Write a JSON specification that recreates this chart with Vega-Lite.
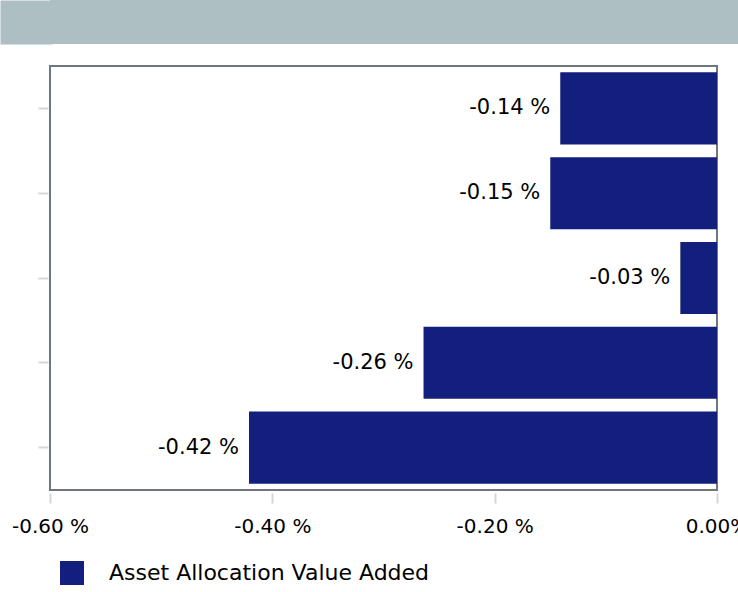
{
  "$schema": "https://vega.github.io/schema/vega-lite/v6.json",
  "padding": 0,
  "autosize": {"type": "pad"},
  "background": "white",
  "config": {
    "font": "DejaVu Sans",
    "concat": {"spacing": 21}
  },
  "vconcat": [
    {
      "width": 688,
      "height": 44,
      "view": {"fill": "#adbfc3", "stroke": null},
      "data": {"values": [{"t": "", "v": 0}]},
      "mark": {"type": "text"},
      "encoding": {
        "text": {"field": "t"},
        "y": {
          "field": "v",
          "type": "quantitative",
          "axis": {
            "title": null,
            "labels": false,
            "ticks": false,
            "grid": false,
            "domain": true,
            "domainWidth": 52,
            "domainColor": "#adbfc3",
            "domainCap": "butt",
            "offset": 24
          }
        }
      }
    },
    {
      "width": 667,
      "height": 424,
      "view": {"stroke": "#6d7780", "strokeWidth": 2},
      "data": {
        "values": [
          {"cat": "1", "value": -0.141, "label": "-0.14 %", "series": "Asset Allocation Value Added"},
          {"cat": "2", "value": -0.150, "label": "-0.15 %", "series": "Asset Allocation Value Added"},
          {"cat": "3", "value": -0.033, "label": "-0.03 %", "series": "Asset Allocation Value Added"},
          {"cat": "4", "value": -0.264, "label": "-0.26 %", "series": "Asset Allocation Value Added"},
          {"cat": "5", "value": -0.421, "label": "-0.42 %", "series": "Asset Allocation Value Added"}
        ]
      },
      "encoding": {
        "y": {
          "field": "cat",
          "type": "nominal",
          "sort": null,
          "scale": {"paddingInner": 0.15, "paddingOuter": 0.075},
          "axis": {
            "title": null,
            "labels": false,
            "domain": false,
            "ticks": true,
            "tickSize": 10,
            "tickWidth": 2,
            "tickColor": "#d6d6d6",
            "offset": 2,
            "minExtent": 47
          }
        },
        "x": {
          "field": "value",
          "type": "quantitative",
          "scale": {"domain": [-0.6, 0], "nice": false, "zero": false},
          "axis": {
            "title": null,
            "values": [-0.6, -0.4, -0.2, 0],
            "labelExpr": "datum.value === 0 ? '0.00%' : '-' + format(-datum.value, '.2f') + ' %'",
            "grid": false,
            "domain": false,
            "tickSize": 10,
            "tickWidth": 2,
            "tickColor": "#d6d6d6",
            "offset": 3,
            "labelPadding": 13,
            "labelFontSize": 20,
            "labelColor": "#000000",
            "labelFlush": false,
            "labelOverlap": false
          }
        }
      },
      "layer": [
        {
          "mark": {"type": "bar"},
          "encoding": {
            "color": {
              "field": "series",
              "type": "nominal",
              "scale": {"range": ["#131f7c"]},
              "legend": {
                "title": null,
                "orient": "none",
                "legendX": 10,
                "legendY": 561,
                "symbolType": "square",
                "symbolSize": 576,
                "symbolStrokeWidth": 0,
                "symbolOpacity": 1,
                "labelFontSize": 22,
                "labelColor": "#000000",
                "labelOffset": 25,
                "labelLimit": 500
              }
            }
          }
        },
        {
          "mark": {
            "type": "text",
            "align": "right",
            "baseline": "middle",
            "dx": -10,
            "fontSize": 21,
            "color": "#000000"
          },
          "encoding": {
            "text": {"field": "label", "type": "nominal"},
            "x": {"field": "value", "type": "quantitative"}
          }
        }
      ]
    }
  ]
}
